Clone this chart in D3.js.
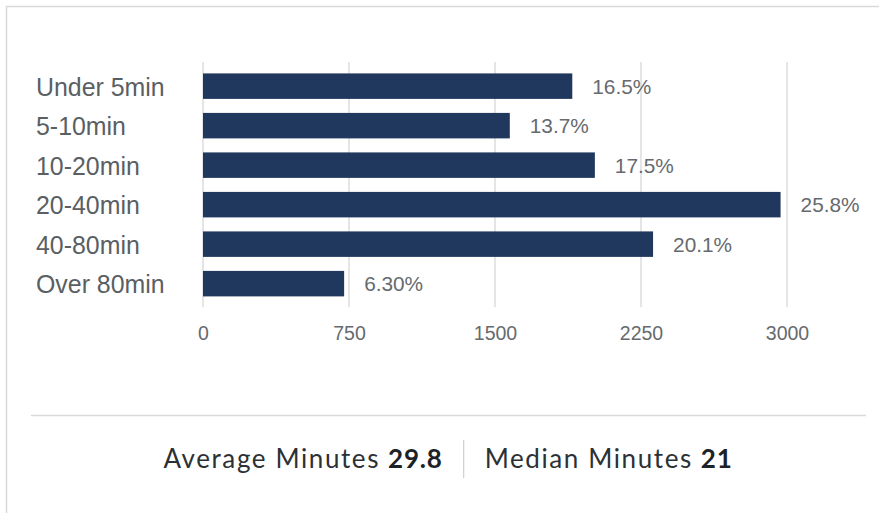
<!DOCTYPE html>
<html><head><meta charset="utf-8">
<script src="https://cdn.jsdelivr.net/npm/d3@7"></script>
<style>
html,body{margin:0;padding:0;background:#fff;}
svg{display:block;}
</style></head>
<body>
<svg id="chart" width="879" height="513"></svg>
<script>
const categories = ["Under 5min","5-10min","10-20min","20-40min","40-80min","Over 80min"];
const values = [1897, 1576, 2013, 2967, 2312, 725];
const percentLabels = ["16.5%","13.7%","17.5%","25.8%","20.1%","6.30%"];
const tickValues = [0, 750, 1500, 2250, 3000];
const summaryLabels = ["Average Minutes", "Median Minutes"];
const summaryValues = ["29.8", "21"];

const svg = d3.select("#chart");

// card border
svg.append("path")
  .attr("d", "M6.5,520 L6.5,6.5 L890,6.5")
  .attr("fill","none").attr("stroke","#d9d9d9").attr("stroke-width",1.5);

const x = d3.scaleLinear().domain([0, 3000]).range([203, 787]);
const y = d3.scaleBand().domain(categories).range([66.4, 303.4]).paddingInner(0.355).paddingOuter(0.1775);

// grid
svg.append("g").selectAll("line").data(tickValues).join("line")
  .attr("x1", d => x(d)).attr("x2", d => x(d))
  .attr("y1", 62).attr("y2", 307)
  .attr("stroke", "#e3e3e3").attr("stroke-width", 1.8);

// bars
svg.append("g").selectAll("rect").data(values).join("rect")
  .attr("x", x(0))
  .attr("y", (d,i) => y(categories[i]))
  .attr("width", d => x(d) - x(0))
  .attr("height", y.bandwidth())
  .attr("fill", "#20375e");

// category labels
svg.append("g").selectAll("text").data(categories).join("text")
  .attr("x", 36)
  .attr("y", d => y(d) + y.bandwidth()/2 + 9.8)
  .attr("font-family", "'Liberation Sans', Arial, sans-serif")
  .attr("font-size", 24.9)
  .attr("fill", "#5a5f63")
  .text(d => d);

// value labels
svg.append("g").selectAll("text").data(values).join("text")
  .attr("x", d => x(d) + 20)
  .attr("y", (d,i) => y(categories[i]) + y.bandwidth()/2 + 7.8)
  .attr("font-family", "'Liberation Sans', Arial, sans-serif")
  .attr("font-size", 20.8)
  .attr("fill", "#666a6e")
  .text((d,i) => percentLabels[i]);

// x axis
const axis = d3.axisBottom(x).tickValues(tickValues).tickSize(0).tickPadding(0).tickFormat(d3.format("d"));
const ax = svg.append("g").attr("transform", "translate(0,326)").call(axis);
ax.select(".domain").remove();
ax.selectAll("text")
  .attr("dy", "0.71em")
  .attr("y", 0)
  .attr("font-family", "'Liberation Sans', Arial, sans-serif")
  .attr("font-size", 19.5)
  .attr("fill", "#666a6e");

// footer rule
svg.append("line").attr("x1", 31).attr("x2", 866).attr("y1", 415.5).attr("y2", 415.5)
  .attr("stroke", "#d9d9d9").attr("stroke-width", 1.5);

// footer summary
const fFont = "Lato, 'Open Sans', sans-serif";
const fSize = 26;
const fSpacing = 1.6;
const footer = svg.append("g");
const parts = [];
summaryLabels.forEach((lab, i) => {
  const t1 = footer.append("text").attr("font-family", fFont).attr("font-size", fSize)
    .attr("letter-spacing", fSpacing)
    .attr("fill", "#2c3136").attr("y", 468).text(lab);
  const t2 = footer.append("text").attr("font-family", fFont).attr("font-size", fSize)
    .attr("letter-spacing", 0.8)
    .attr("font-weight", "bold").attr("fill", "#1c2227").attr("y", 468).text(summaryValues[i]);
  parts.push([t1, t2]);
});
const gapWord = 8, gapSep = 21;
let widths = parts.map(([a,b]) => a.node().getComputedTextLength() + gapWord + b.node().getComputedTextLength());
const total = widths[0] + widths[1] + 2*gapSep;
let cx = 448 - total/2;
parts.forEach(([a,b], i) => {
  a.attr("x", cx);
  b.attr("x", cx + a.node().getComputedTextLength() + gapWord);
  cx += widths[i];
  if (i === 0) {
    footer.append("line").attr("x1", cx + gapSep).attr("x2", cx + gapSep)
      .attr("y1", 440).attr("y2", 478).attr("stroke", "#cfcfcf").attr("stroke-width", 1.2);
    cx += 2*gapSep;
  }
});
</script>
</body></html>
